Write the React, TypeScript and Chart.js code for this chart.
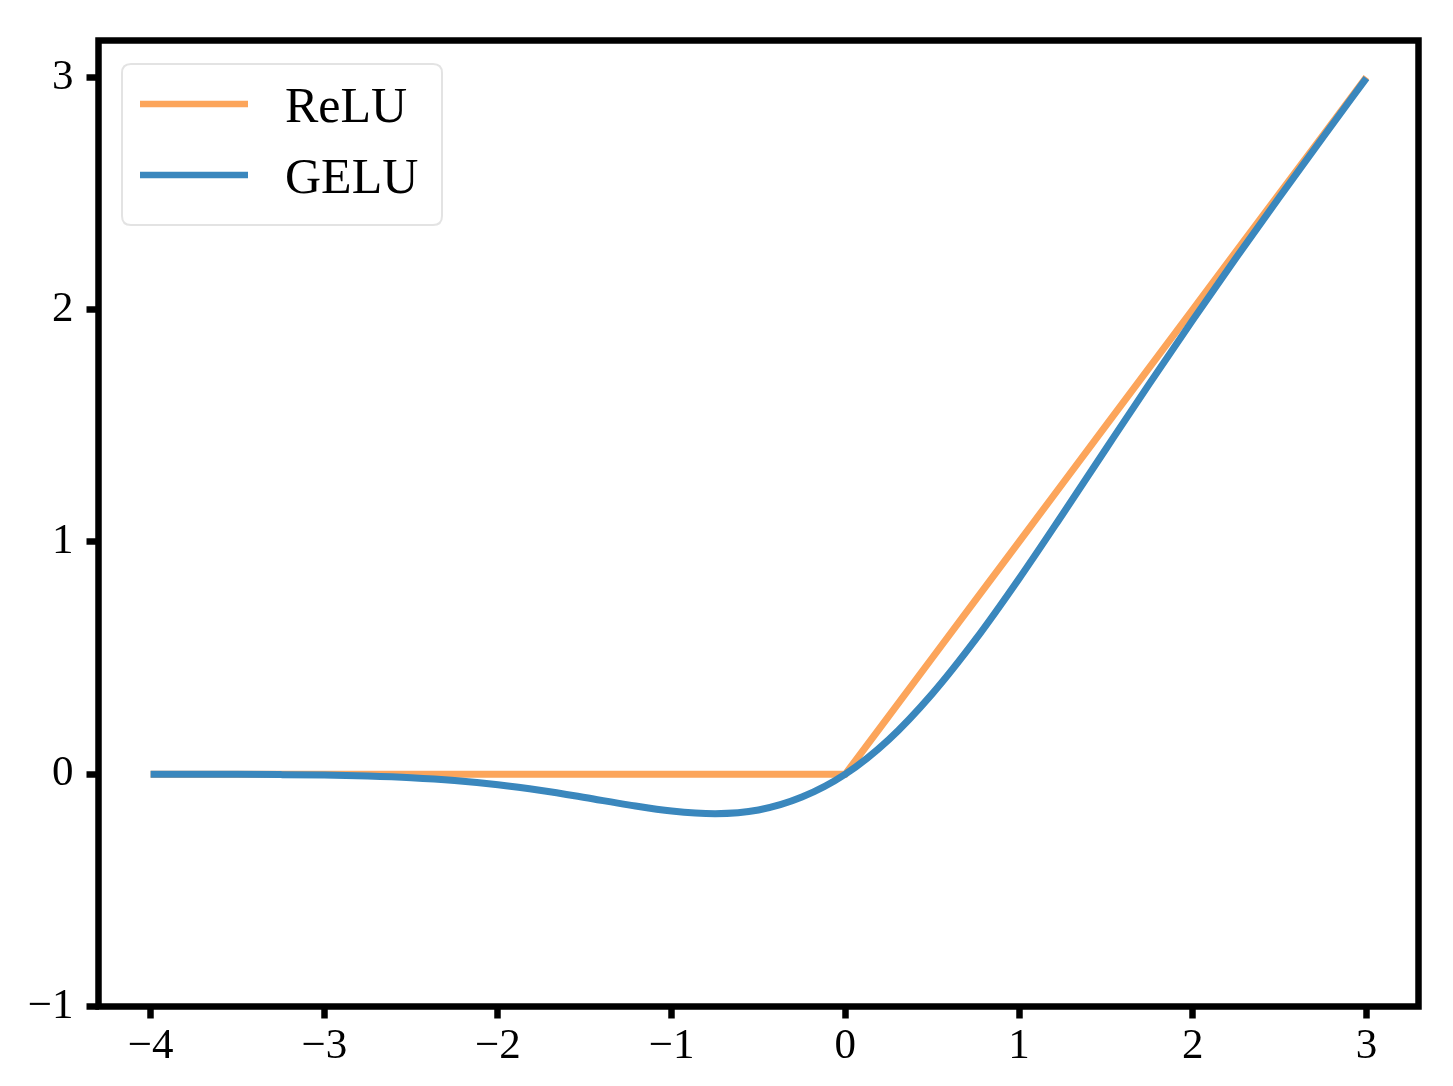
import React, { useEffect, useRef } from "react";
import { Chart, registerables } from "chart.js";

Chart.register(...registerables);

// Data
const xValues = [-4, -3.75, -3.5, -3.25, -3, -2.75, -2.5, -2.25, -2, -1.75, -1.5, -1.25, -1, -0.75, -0.5, -0.25, 0, 0.25, 0.5, 0.75, 1, 1.25, 1.5, 1.75, 2, 2.25, 2.5, 2.75, 3];
const reluValues = [0, 0, 0, 0, 0, 0, 0, 0, 0, 0, 0, 0, 0, 0, 0, 0, 0, 0.25, 0.5, 0.75, 1, 1.25, 1.5, 1.75, 2, 2.25, 2.5, 2.75, 3];
const geluValues = [-0.0001, -0.0003, -0.0008, -0.0019, -0.004, -0.0082, -0.0155, -0.0275, -0.0455, -0.0702, -0.1002, -0.132, -0.1587, -0.17, -0.1543, -0.0987, 0, 0.1487, 0.3457, 0.58, 0.8413, 1.118, 1.3998, 1.6798, 1.9545, 2.2225, 2.4845, 2.7418, 2.996];
const seriesLabels = ["ReLU", "GELU"];
const xTicks = [-4, -3, -2, -1, 0, 1, 2, 3];
const yTicks = [-1, 0, 1, 2, 3];

const ORANGE = "#FCA55B";
const BLUE = "#3A87BD";
const FONT = "'Liberation Serif', 'Times New Roman', serif";

const fmt = (v: number) => (v < 0 ? "\u2212" + Math.abs(v) : String(v));

const framePlugin = {
  id: "frameAndLegend",
  afterDatasetsDraw(chart: any) {
    const { ctx, chartArea } = chart;
    const { left, top, right, bottom } = chartArea;
    ctx.save();
    ctx.strokeStyle = "#000";
    ctx.lineWidth = 6.5;
    ctx.lineJoin = "miter";
    ctx.strokeRect(left, top, right - left, bottom - top);

    // legend
    const bx = 122, by = 64, bw = 320, bh = 161, r = 9;
    ctx.beginPath();
    ctx.moveTo(bx + r, by);
    ctx.lineTo(bx + bw - r, by);
    ctx.quadraticCurveTo(bx + bw, by, bx + bw, by + r);
    ctx.lineTo(bx + bw, by + bh - r);
    ctx.quadraticCurveTo(bx + bw, by + bh, bx + bw - r, by + bh);
    ctx.lineTo(bx + r, by + bh);
    ctx.quadraticCurveTo(bx, by + bh, bx, by + bh - r);
    ctx.lineTo(bx, by + r);
    ctx.quadraticCurveTo(bx, by, bx + r, by);
    ctx.closePath();
    ctx.fillStyle = "rgba(255,255,255,0.8)";
    ctx.fill();
    ctx.strokeStyle = "#e3e3e3";
    ctx.lineWidth = 2;
    ctx.stroke();

    const rows = [104, 175];
    chart.data.datasets.forEach((ds: any, i: number) => {
      const y = rows[i];
      ctx.strokeStyle = ds.borderColor;
      ctx.lineWidth = 6.5;
      ctx.lineCap = "butt";
      ctx.beginPath();
      ctx.moveTo(140, y);
      ctx.lineTo(248, y);
      ctx.stroke();
      ctx.fillStyle = "#000";
      ctx.font = `50px ${FONT}`;
      ctx.textAlign = "left";
      ctx.textBaseline = "alphabetic";
      ctx.fillText(ds.label, 285, y + 17.5);
    });
    ctx.restore();
  },
};

export default function App() {
  const ref = useRef<HTMLCanvasElement | null>(null);
  useEffect(() => {
    if (!ref.current) return;
    const chart = new Chart(ref.current, {
      type: "line",
      data: {
        datasets: [
          {
            label: seriesLabels[0],
            data: xValues.map((x, i) => ({ x, y: reluValues[i] })),
            borderColor: ORANGE,
            borderWidth: 7,
            pointRadius: 0,
            tension: 0,
            order: 2,
          },
          {
            label: seriesLabels[1],
            data: xValues.map((x, i) => ({ x, y: geluValues[i] })),
            borderColor: BLUE,
            borderWidth: 7,
            pointRadius: 0,
            cubicInterpolationMode: "monotone",
            order: 1,
          },
        ],
      },
      options: {
        responsive: false,
        animation: false,
        layout: { padding: { left: 0, top: 40.5, right: 34.5, bottom: 0 } },
        plugins: { legend: { display: false }, tooltip: { enabled: false } },
        scales: {
          x: {
            type: "linear",
            min: -4.3,
            max: 3.3,
            afterBuildTicks: (s: any) => {
              s.ticks = xTicks.map((v) => ({ value: v }));
            },
            afterFit: (s: any) => {
              s.height = 79.5;
            },
            border: { display: false },
            grid: { display: true, drawOnChartArea: false, drawTicks: true, tickLength: 12, tickWidth: 6.5, tickColor: "#000" },
            ticks: { color: "#000", font: { family: FONT, size: 43 }, padding: 2, maxRotation: 0, autoSkip: false, callback: (v: any) => fmt(Number(v)) },
          },
          y: {
            type: "linear",
            min: -1,
            max: 3.158,
            afterBuildTicks: (s: any) => {
              s.ticks = yTicks.map((v) => ({ value: v }));
            },
            afterFit: (s: any) => {
              s.width = 98.5;
            },
            border: { display: false },
            grid: { display: true, drawOnChartArea: false, drawTicks: true, tickLength: 12, tickWidth: 6.5, tickColor: "#000" },
            ticks: { color: "#000", font: { family: FONT, size: 43 }, padding: 13, autoSkip: false, callback: (v: any) => fmt(Number(v)) },
          },
        },
      },
      plugins: [framePlugin],
    });
    return () => chart.destroy();
  }, []);
  return (
    <div style={{ position: "absolute", left: 0, top: 0, width: 1453, height: 1086, background: "#fff" }}>
      <canvas ref={ref} width={1453} height={1086} style={{ display: "block" }} />
    </div>
  );
}
